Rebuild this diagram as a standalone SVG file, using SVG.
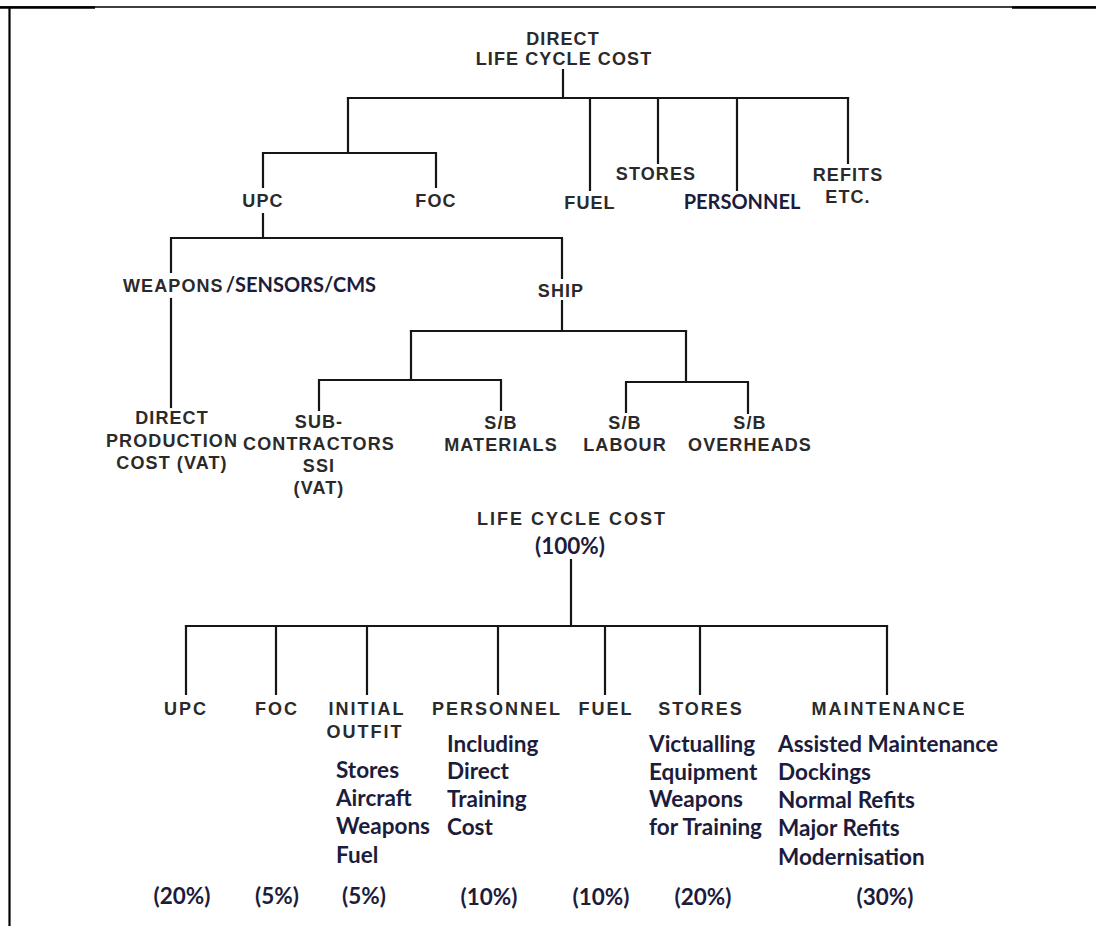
<svg xmlns="http://www.w3.org/2000/svg" width="1096" height="926" viewBox="0 0 1096 926">
  <style>
    .frame { stroke: #000; fill: none; }
    .link { stroke: #161616; stroke-width: 2.2; fill: none; stroke-linecap: square; }
    .lbl { font-family: "Liberation Sans", Arial, sans-serif; font-weight: bold; font-size: 18px; fill: #2a2a2a; letter-spacing: 1.1px; }
    .lbl2 { font-family: "Liberation Sans", Arial, sans-serif; font-weight: bold; font-size: 18px; fill: #2a2a2a; letter-spacing: 2px; }
    .mid { text-anchor: middle; }
    .note { font-family: Lato, "Open Sans", sans-serif; font-weight: bold; font-size: 22.5px; fill: #1c1c3c; }
    .caps { font-size: 20px; }
  </style>

  <!-- page frame -->
  <g id="frame">
    <line class="frame" x1="0" y1="7" x2="1096" y2="7" stroke-width="1.3"/>
    <line class="frame" x1="0" y1="7.5" x2="95" y2="7.5" stroke-width="2.5"/>
    <line class="frame" x1="1012" y1="7.5" x2="1096" y2="7.5" stroke-width="2.5"/>
    <line class="frame" x1="9.5" y1="7" x2="9.5" y2="926" stroke-width="2.2"/>
  </g>

  <!-- connectors -->
  <g id="connectors">
    <!-- direct life cycle cost tree -->
    <path class="link" d="M563 70 V98 M348 98 H848"/>
    <path class="link" d="M348 98 V153 M263 153 H436 M263 153 V187 M436 153 V187"/>
    <path class="link" d="M590 98 V190 M658 98 V163 M737 98 V190 M848 98 V163"/>
    <path class="link" d="M263 214 V238 M171 238 H562 M171 238 V272 M562 238 V278"/>
    <path class="link" d="M171 299 V407"/>
    <path class="link" d="M562 301 V331 M411 331 H686"/>
    <path class="link" d="M411 331 V380 M319 380 H501 M319 380 V410 M501 380 V410"/>
    <path class="link" d="M686 331 V382 M626 382 H748 M626 382 V412 M748 382 V413"/>
    <!-- life cycle cost tree -->
    <path class="link" d="M571 560 V626 M186 626 H887"/>
    <path class="link" d="M186 626 V694 M276 626 V694 M367 626 V694 M498 626 V694 M605 626 V694 M700 626 V694 M887 626 V694"/>
  </g>

  <!-- upper tree nodes -->
  <g id="dlcc">
    <text class="lbl mid" x="563" y="45">DIRECT</text>
    <text class="lbl mid" x="564" y="65">LIFE CYCLE COST</text>
  </g>
  <g id="upc-top"><text class="lbl mid" x="263" y="207">UPC</text></g>
  <g id="foc-top"><text class="lbl mid" x="436" y="207">FOC</text></g>
  <g id="fuel-top"><text class="lbl mid" x="590" y="209">FUEL</text></g>
  <g id="stores-top"><text class="lbl mid" x="656" y="180">STORES</text></g>
  <g id="personnel-top"><text class="note caps mid" x="742" y="209">PERSONNEL</text></g>
  <g id="refits-top">
    <text class="lbl mid" x="848" y="181">REFITS</text>
    <text class="lbl mid" x="848" y="203">ETC.</text>
  </g>
  <g id="weapons">
    <text x="123" y="292"><tspan class="lbl">WEAPONS</tspan><tspan class="note caps" dx="2">/SENSORS/CMS</tspan></text>
  </g>
  <g id="ship"><text class="lbl mid" x="561" y="297">SHIP</text></g>
  <g id="dpc">
    <text class="lbl mid" x="172" y="424">DIRECT</text>
    <text class="lbl mid" x="172" y="447">PRODUCTION</text>
    <text class="lbl mid" x="172" y="469">COST (VAT)</text>
  </g>
  <g id="subcon">
    <text class="lbl mid" x="319" y="428">SUB-</text>
    <text class="lbl mid" x="319" y="450">CONTRACTORS</text>
    <text class="lbl mid" x="319" y="472">SSI</text>
    <text class="lbl mid" x="319" y="494">(VAT)</text>
  </g>
  <g id="sb-materials">
    <text class="lbl mid" x="501" y="429">S/B</text>
    <text class="lbl mid" x="501" y="451">MATERIALS</text>
  </g>
  <g id="sb-labour">
    <text class="lbl mid" x="625" y="429">S/B</text>
    <text class="lbl mid" x="625" y="451">LABOUR</text>
  </g>
  <g id="sb-overheads">
    <text class="lbl mid" x="750" y="429">S/B</text>
    <text class="lbl mid" x="750" y="451">OVERHEADS</text>
  </g>

  <!-- lower tree nodes -->
  <g id="lcc">
    <text class="lbl2 mid" x="572" y="525">LIFE CYCLE COST</text>
    <text class="note mid" x="570" y="554">(100%)</text>
  </g>
  <g id="upc">
    <text class="lbl2 mid" x="186" y="715">UPC</text>
    <text class="note mid" x="182" y="904">(20%)</text>
  </g>
  <g id="foc">
    <text class="lbl2 mid" x="277" y="715">FOC</text>
    <text class="note mid" x="277" y="904">(5%)</text>
  </g>
  <g id="initial-outfit">
    <text class="lbl2 mid" x="367" y="715">INITIAL</text>
    <text class="lbl2 mid" x="365" y="738">OUTFIT</text>
    <text class="note" x="336" y="778">Stores</text>
    <text class="note" x="336" y="806">Aircraft</text>
    <text class="note" x="336" y="834">Weapons</text>
    <text class="note" x="336" y="863">Fuel</text>
    <text class="note mid" x="364" y="904">(5%)</text>
  </g>
  <g id="personnel">
    <text class="lbl2 mid" x="497" y="715">PERSONNEL</text>
    <text class="note" x="447" y="752">Including</text>
    <text class="note" x="447" y="779">Direct</text>
    <text class="note" x="447" y="807">Training</text>
    <text class="note" x="447" y="835">Cost</text>
    <text class="note mid" x="489" y="905">(10%)</text>
  </g>
  <g id="fuel">
    <text class="lbl2 mid" x="606" y="715">FUEL</text>
    <text class="note mid" x="601" y="905">(10%)</text>
  </g>
  <g id="stores">
    <text class="lbl2 mid" x="701" y="715">STORES</text>
    <text class="note" x="649" y="752">Victualling</text>
    <text class="note" x="649" y="780">Equipment</text>
    <text class="note" x="649" y="807">Weapons</text>
    <text class="note" x="649" y="835">for Training</text>
    <text class="note mid" x="703" y="905">(20%)</text>
  </g>
  <g id="maintenance">
    <text class="lbl2 mid" x="889" y="715">MAINTENANCE</text>
    <text class="note" x="778" y="752">Assisted Maintenance</text>
    <text class="note" x="778" y="780">Dockings</text>
    <text class="note" x="778" y="808">Normal Refits</text>
    <text class="note" x="778" y="836">Major Refits</text>
    <text class="note" x="778" y="865">Modernisation</text>
    <text class="note mid" x="885" y="905">(30%)</text>
  </g>
</svg>
